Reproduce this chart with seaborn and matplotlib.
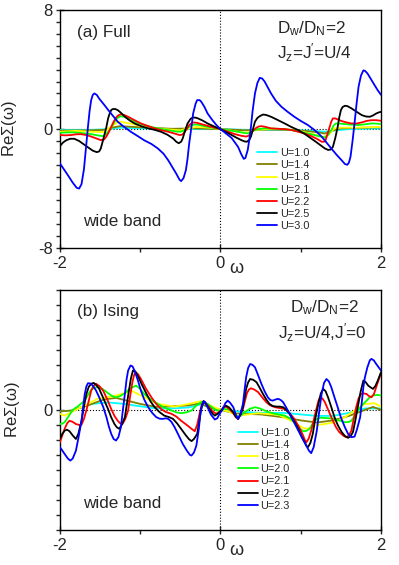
import numpy as np
import pandas as pd
import matplotlib
matplotlib.use('Agg')
import matplotlib.pyplot as plt
import seaborn as sns
from matplotlib.lines import Line2D
from matplotlib.ticker import MultipleLocator

# ---- panel (a): Full, Jz=J'=U/4  (omega, Re Sigma) ----
a_u10 = [(-2.0, -0.05), (-1.6, -0.05), (-1.4, 0.0), (-1.25, 0.1), (-1.0, 0.05), (-0.5, 0.0), (0.0, 0.0),
         (0.3, -0.05), (0.8, -0.05), (1.1, -0.1), (1.3, -0.18), (1.4, -0.1), (1.6, 0.0), (2.0, 0.05)]
a_u14 = [(-2.0, -0.1), (-1.6, -0.08), (-1.45, -0.05), (-1.35, 0.1), (-1.25, 0.2), (-1.0, 0.12), (-0.6, 0.02),
         (-0.35, 0.05), (0.0, 0.0), (0.3, -0.08), (0.6, -0.03), (0.9, -0.05), (1.2, -0.2), (1.3, -0.3),
         (1.4, -0.1), (1.5, 0.05), (1.7, 0.08), (2.0, 0.12)]
a_u18 = [(-2.0, -0.18), (-1.8, -0.12), (-1.6, -0.18), (-1.45, -0.2), (-1.38, 0.1), (-1.3, 0.4), (-1.25, 0.5),
         (-1.1, 0.35), (-0.9, 0.1), (-0.7, 0.0), (-0.5, -0.08), (-0.4, 0.05), (-0.3, 0.15), (-0.15, 0.1),
         (0.0, 0.0), (0.15, -0.12), (0.3, -0.25), (0.45, -0.05), (0.6, 0.0), (0.8, 0.0), (1.0, -0.15),
         (1.2, -0.4), (1.28, -0.55), (1.36, -0.3), (1.42, 0.05), (1.5, 0.1), (1.7, 0.1), (2.0, 0.15)]
a_u21 = [(-2.0, -0.25), (-1.91, -0.22), (-1.82, -0.22), (-1.72, -0.27), (-1.61, -0.34), (-1.53, -0.42),
         (-1.47, -0.47), (-1.43, -0.38), (-1.38, -0.07), (-1.34, 0.3), (-1.3, 0.65), (-1.27, 0.8),
         (-1.24, 0.87), (-1.19, 0.82), (-1.11, 0.6), (-1.03, 0.42), (-0.95, 0.27), (-0.86, 0.14),
         (-0.78, 0.05), (-0.7, -0.03), (-0.61, -0.11), (-0.55, -0.16), (-0.5, -0.18), (-0.45, -0.08),
         (-0.39, 0.16), (-0.35, 0.27), (-0.32, 0.31), (-0.27, 0.29), (-0.2, 0.2), (-0.1, 0.09), (0.0, 0.0),
         (0.1, -0.08), (0.22, -0.18), (0.29, -0.25), (0.34, -0.29), (0.38, -0.22), (0.42, -0.08),
         (0.47, 0.0), (0.55, 0.05), (0.67, 0.03), (0.8, 0.0), (0.92, -0.1), (1.05, -0.25), (1.14, -0.36),
         (1.22, -0.47), (1.27, -0.54), (1.3, -0.56), (1.34, -0.4), (1.38, -0.07), (1.41, 0.25), (1.44, 0.38),
         (1.49, 0.37), (1.55, 0.34), (1.63, 0.3), (1.71, 0.27), (1.8, 0.32), (1.88, 0.38), (1.94, 0.37),
         (2.0, 0.34)]
a_u22 = [(-2.0, -0.4), (-1.93, -0.42), (-1.86, -0.4), (-1.8, -0.35), (-1.74, -0.34), (-1.67, -0.4),
         (-1.61, -0.5), (-1.55, -0.62), (-1.49, -0.74), (-1.45, -0.7), (-1.42, -0.5), (-1.39, -0.2),
         (-1.36, 0.15), (-1.33, 0.5), (-1.3, 0.78), (-1.27, 0.93), (-1.24, 1.0), (-1.2, 0.95), (-1.15, 0.83),
         (-1.07, 0.6), (-0.99, 0.38), (-0.9, 0.2), (-0.82, 0.05), (-0.74, -0.07), (-0.65, -0.18),
         (-0.57, -0.3), (-0.51, -0.4), (-0.48, -0.38), (-0.46, -0.29), (-0.42, 0.0), (-0.39, 0.27),
         (-0.36, 0.4), (-0.33, 0.45), (-0.29, 0.42), (-0.24, 0.34), (-0.18, 0.25), (-0.12, 0.16),
         (-0.06, 0.08), (0.0, 0.0), (0.09, -0.17), (0.18, -0.34), (0.26, -0.45), (0.32, -0.5), (0.35, -0.45),
         (0.38, -0.29), (0.41, -0.08), (0.45, 0.1), (0.48, 0.18), (0.51, 0.2), (0.56, 0.15), (0.63, 0.05),
         (0.72, 0.02), (0.8, 0.0), (0.89, -0.07), (0.97, -0.18), (1.05, -0.3), (1.13, -0.47), (1.2, -0.65),
         (1.26, -0.85), (1.29, -0.85), (1.31, -0.74), (1.335, -0.3), (1.36, 0.15), (1.38, 0.5), (1.4, 0.72),
         (1.43, 0.72), (1.46, 0.65), (1.51, 0.54), (1.57, 0.45), (1.63, 0.38), (1.7, 0.38), (1.76, 0.45),
         (1.82, 0.55), (1.88, 0.6), (1.94, 0.6), (2.0, 0.56)]
a_u25 = [(-2.0, -1.15), (-1.96, -0.9), (-1.92, -0.75), (-1.87, -0.65), (-1.82, -0.65), (-1.76, -0.8),
         (-1.69, -1.07), (-1.63, -1.3), (-1.59, -1.45), (-1.54, -1.55), (-1.51, -1.5), (-1.49, -1.3),
         (-1.46, -0.7), (-1.42, 0.15), (-1.4, 0.7), (-1.38, 1.05), (-1.36, 1.28), (-1.34, 1.35), (-1.31, 1.35),
         (-1.28, 1.28), (-1.24, 1.1), (-1.19, 0.83), (-1.13, 0.58), (-1.07, 0.38), (-0.98, 0.18), (-0.9, 0.05),
         (-0.82, -0.05), (-0.74, -0.18), (-0.66, -0.38), (-0.59, -0.63), (-0.55, -0.85), (-0.52, -0.95),
         (-0.49, -0.85), (-0.47, -0.63), (-0.44, -0.1), (-0.41, 0.38), (-0.37, 0.7), (-0.34, 0.78),
         (-0.31, 0.77), (-0.28, 0.72), (-0.22, 0.57), (-0.16, 0.38), (-0.08, 0.18), (0.0, 0.0), (0.07, -0.2),
         (0.14, -0.4), (0.2, -0.58), (0.26, -0.74), (0.3, -0.83), (0.33, -0.85), (0.36, -0.72), (0.38, -0.5),
         (0.405, 0.0), (0.43, 0.5), (0.46, 0.75), (0.49, 0.87), (0.53, 0.98), (0.57, 0.95), (0.63, 0.83),
         (0.71, 0.62), (0.8, 0.38), (0.88, 0.15), (0.97, -0.07), (1.05, -0.33), (1.13, -0.63), (1.2, -0.9),
         (1.26, -1.14), (1.3, -1.3), (1.34, -1.4), (1.37, -1.38), (1.4, -1.2), (1.43, -0.6), (1.46, 0.15),
         (1.48, 0.8), (1.5, 1.27), (1.52, 1.48), (1.55, 1.57), (1.58, 1.55), (1.63, 1.4), (1.7, 1.15),
         (1.76, 0.94), (1.81, 0.85), (1.86, 0.83), (1.9, 0.92), (1.94, 1.05), (1.97, 1.12), (2.0, 1.16)]
a_u30 = [(-2.0, -2.3), (-1.95, -2.7), (-1.9, -3.1), (-1.84, -3.6), (-1.79, -3.95), (-1.76, -4.0),
         (-1.73, -3.7), (-1.7, -2.7), (-1.67, -1.0), (-1.65, 0.15), (-1.63, 1.2), (-1.61, 1.95), (-1.59, 2.3),
         (-1.57, 2.4), (-1.54, 2.3), (-1.51, 2.05), (-1.45, 1.65), (-1.4, 1.3), (-1.34, 0.9), (-1.28, 0.5),
         (-1.2, 0.15), (-1.11, -0.2), (-1.03, -0.47), (-0.95, -0.75), (-0.86, -1.0), (-0.78, -1.3),
         (-0.71, -1.65), (-0.65, -2.1), (-0.6, -2.55), (-0.55, -3.0), (-0.51, -3.4), (-0.49, -3.5),
         (-0.46, -3.3), (-0.43, -2.75), (-0.41, -2.0), (-0.39, -1.0), (-0.36, 0.2), (-0.34, 1.05),
         (-0.31, 1.7), (-0.29, 1.95), (-0.26, 1.95), (-0.24, 1.85), (-0.2, 1.5), (-0.16, 1.05), (-0.1, 0.6),
         (-0.05, 0.27), (0.0, 0.0), (0.07, -0.3), (0.14, -0.6), (0.22, -1.2), (0.26, -1.7), (0.29, -2.0),
         (0.31, -1.95), (0.34, -1.4), (0.36, -0.7), (0.38, 0.15), (0.4, 1.2), (0.43, 2.4), (0.46, 3.1),
         (0.49, 3.45), (0.52, 3.4), (0.55, 3.2), (0.59, 2.8), (0.63, 2.4), (0.69, 1.9), (0.76, 1.5),
         (0.84, 1.15), (0.92, 0.83), (1.0, 0.55), (1.09, 0.27), (1.18, -0.1), (1.26, -0.5), (1.32, -0.9),
         (1.38, -1.3), (1.45, -1.75), (1.51, -2.1), (1.55, -2.35), (1.58, -2.4), (1.6, -2.25), (1.62, -1.85),
         (1.645, -0.8), (1.67, 0.4), (1.695, 1.7), (1.72, 2.85), (1.75, 3.6), (1.78, 3.95), (1.8, 3.92),
         (1.83, 3.75), (1.87, 3.4), (1.92, 2.95), (1.96, 2.6), (2.0, 2.3)]

# ---- panel (b): Ising, Jz=U/4, J'=0 ----
b_u10 = [(-2.0, -0.05), (-1.85, -0.02), (-1.6, 0.2), (-1.4, 0.25), (-1.2, 0.2), (-1.0, 0.12), (-0.8, 0.05),
         (-0.6, 0.05), (-0.4, 0.08), (-0.25, 0.18), (0.0, 0.0), (0.2, -0.05), (0.5, -0.1), (0.8, -0.1),
         (1.0, -0.15), (1.2, -0.2), (1.4, -0.2), (1.6, -0.1), (1.8, 0.05), (2.0, 0.05)]
b_u14 = [(-2.0, -0.05), (-1.85, -0.02), (-1.65, 0.15), (-1.45, 0.35), (-1.3, 0.4), (-1.15, 0.3),
         (-1.0, 0.2), (-0.8, 0.1), (-0.6, 0.12), (-0.4, 0.15), (-0.25, 0.22), (-0.12, 0.05), (0.0, 0.0),
         (0.2, -0.12), (0.5, -0.15), (0.8, -0.25), (1.0, -0.35), (1.2, -0.42), (1.4, -0.35), (1.6, -0.2),
         (1.75, -0.05), (1.9, 0.1), (2.0, 0.0)]
b_u18 = [(-2.0, -0.13), (-1.94, -0.19), (-1.82, -0.02), (-1.65, 0.2), (-1.53, 0.37), (-1.36, 0.44),
         (-1.19, 0.56), (-1.11, 0.64), (-0.99, 0.48), (-0.78, 0.2), (-0.57, 0.11), (-0.36, 0.22),
         (-0.24, 0.29), (-0.12, 0.14), (0.0, 0.0), (0.09, -0.04), (0.22, -0.19), (0.47, -0.11),
         (0.72, -0.16), (0.88, -0.36), (1.03, -0.6), (1.09, -0.63), (1.17, -0.52), (1.3, -0.47),
         (1.42, -0.41), (1.55, -0.24), (1.67, -0.02), (1.8, 0.2), (1.92, 0.22), (2.0, 0.11)]
b_u20 = [(-2.0, -0.47), (-1.97, -0.46), (-1.94, -0.41), (-1.9, -0.25), (-1.86, -0.08), (-1.82, 0.04),
         (-1.78, 0.11), (-1.74, 0.2), (-1.69, 0.31), (-1.65, 0.5), (-1.61, 0.67), (-1.57, 0.74), (-1.53, 0.76),
         (-1.47, 0.7), (-1.4, 0.56), (-1.35, 0.46), (-1.3, 0.42), (-1.25, 0.46), (-1.19, 0.56), (-1.14, 0.68),
         (-1.09, 0.76), (-1.05, 0.81), (-1.0, 0.7), (-0.95, 0.53), (-0.87, 0.35), (-0.78, 0.2), (-0.7, 0.08),
         (-0.61, -0.02), (-0.55, -0.08), (-0.49, -0.11), (-0.42, -0.08), (-0.36, -0.02), (-0.3, 0.15),
         (-0.24, 0.26), (-0.2, 0.25), (-0.16, 0.2), (-0.1, 0.08), (-0.05, -0.02), (0.0, -0.02), (0.05, 0.03),
         (0.1, 0.02), (0.14, -0.02), (0.18, -0.15), (0.22, -0.24), (0.26, -0.18), (0.3, -0.08), (0.36, 0.03),
         (0.43, 0.09), (0.49, 0.05), (0.55, -0.02), (0.62, -0.09), (0.68, -0.13), (0.74, -0.16), (0.8, -0.19),
         (0.86, -0.27), (0.92, -0.41), (0.98, -0.6), (1.03, -0.71), (1.07, -0.7), (1.11, -0.63), (1.15, -0.45),
         (1.2, -0.3), (1.25, -0.26), (1.3, -0.27), (1.36, -0.28), (1.42, -0.3), (1.49, -0.36), (1.55, -0.41),
         (1.6, -0.4), (1.63, -0.36), (1.67, -0.2), (1.71, -0.02), (1.76, 0.15), (1.82, 0.31), (1.86, 0.42),
         (1.9, 0.48), (1.95, 0.5), (2.0, 0.48)]
b_u21 = [(-2.0, -1.08), (-1.97, -0.85), (-1.94, -0.63), (-1.91, -0.45), (-1.88, -0.36), (-1.84, -0.4),
         (-1.8, -0.47), (-1.76, -0.5), (-1.73, -0.49), (-1.7, -0.3), (-1.67, -0.02), (-1.64, 0.3), (-1.61, 0.64),
         (-1.58, 0.8), (-1.55, 0.87), (-1.51, 0.8), (-1.46, 0.64), (-1.41, 0.35), (-1.36, 0.03), (-1.32, -0.2),
         (-1.28, -0.36), (-1.25, -0.44), (-1.22, -0.47), (-1.185, -0.3), (-1.15, -0.02), (-1.125, 0.45),
         (-1.1, 0.87), (-1.08, 1.12), (-1.06, 1.26), (-1.03, 1.2), (-0.99, 1.03), (-0.93, 0.72), (-0.86, 0.42),
         (-0.8, 0.2), (-0.74, 0.03), (-0.68, -0.07), (-0.61, -0.13), (-0.55, -0.22), (-0.49, -0.36),
         (-0.42, -0.5), (-0.36, -0.63), (-0.32, -0.71), (-0.29, -0.5), (-0.26, -0.13), (-0.235, 0.15),
         (-0.21, 0.29), (-0.18, 0.22), (-0.14, 0.09), (-0.1, -0.05), (-0.05, -0.13), (0.01, -0.02),
         (0.04, 0.08), (0.07, 0.11), (0.11, 0.03), (0.16, -0.11), (0.19, -0.24), (0.22, -0.3), (0.25, -0.15),
         (0.28, 0.03), (0.305, 0.3), (0.33, 0.56), (0.355, 0.68), (0.38, 0.72), (0.42, 0.68), (0.47, 0.59),
         (0.52, 0.42), (0.57, 0.26), (0.62, 0.15), (0.68, 0.09), (0.74, 0.06), (0.8, 0.03), (0.86, -0.1),
         (0.92, -0.3), (0.98, -0.58), (1.03, -0.86), (1.05, -1.0), (1.07, -1.08), (1.1, -0.95), (1.13, -0.69),
         (1.165, -0.3), (1.2, 0.09), (1.22, 0.3), (1.24, 0.42), (1.27, 0.38), (1.3, 0.26), (1.35, -0.05),
         (1.4, -0.36), (1.44, -0.58), (1.48, -0.74), (1.53, -0.86), (1.57, -0.91), (1.6, -0.85), (1.63, -0.69),
         (1.66, -0.3), (1.69, 0.09), (1.72, 0.38), (1.75, 0.53), (1.785, 0.55), (1.82, 0.53), (1.85, 0.46),
         (1.88, 0.42), (1.91, 0.52), (1.94, 0.76), (1.97, 1.0), (2.0, 1.22)]
b_u22 = [(-2.0, -0.97), (-1.97, -0.8), (-1.94, -0.69), (-1.91, -0.66), (-1.88, -0.71), (-1.84, -0.85),
         (-1.8, -0.97), (-1.77, -0.8), (-1.73, -0.36), (-1.7, 0.1), (-1.67, 0.53), (-1.64, 0.77), (-1.61, 0.87),
         (-1.58, 0.9), (-1.55, 0.84), (-1.51, 0.7), (-1.46, 0.4), (-1.4, 0.03), (-1.36, -0.25), (-1.32, -0.47),
         (-1.29, -0.58), (-1.26, -0.63), (-1.23, -0.5), (-1.19, -0.24), (-1.165, 0.2), (-1.14, 0.64),
         (-1.115, 1.05), (-1.09, 1.31), (-1.06, 1.28), (-1.03, 1.14), (-0.98, 0.85), (-0.92, 0.53),
         (-0.87, 0.28), (-0.82, 0.09), (-0.76, -0.07), (-0.7, -0.19), (-0.64, -0.24), (-0.59, -0.3),
         (-0.54, -0.45), (-0.49, -0.63), (-0.43, -0.85), (-0.39, -0.98), (-0.36, -1.04), (-0.33, -0.97),
         (-0.29, -0.8), (-0.265, -0.4), (-0.24, 0.03), (-0.21, 0.29), (-0.18, 0.2), (-0.14, 0.03),
         (-0.1, -0.12), (-0.07, -0.19), (-0.03, -0.12), (0.01, -0.02), (0.04, 0.1), (0.07, 0.14), (0.11, 0.08),
         (0.16, -0.08), (0.19, -0.22), (0.22, -0.3), (0.25, -0.15), (0.28, 0.09), (0.3, 0.4), (0.32, 0.7),
         (0.345, 0.92), (0.37, 1.03), (0.41, 1.0), (0.45, 0.92), (0.49, 0.73), (0.53, 0.53), (0.57, 0.35),
         (0.61, 0.2), (0.65, 0.13), (0.7, 0.11), (0.74, 0.11), (0.78, 0.09), (0.82, 0.0), (0.86, -0.13),
         (0.92, -0.38), (0.97, -0.63), (1.01, -0.88), (1.05, -1.08), (1.07, -1.2), (1.09, -1.24), (1.12, -1.1),
         (1.15, -0.8), (1.18, -0.3), (1.22, 0.2), (1.25, 0.55), (1.28, 0.7), (1.31, 0.62), (1.34, 0.42),
         (1.38, 0.1), (1.42, -0.24), (1.46, -0.5), (1.51, -0.74), (1.55, -0.87), (1.59, -0.93), (1.62, -0.88),
         (1.65, -0.74), (1.68, -0.35), (1.71, 0.09), (1.745, 0.6), (1.78, 0.98), (1.81, 0.92), (1.84, 0.81),
         (1.87, 0.75), (1.9, 0.7), (1.93, 0.8), (1.96, 0.98), (1.98, 1.12), (2.0, 1.26)]
b_u23 = [(-2.0, -1.24), (-1.97, -1.35), (-1.94, -1.47), (-1.9, -1.62), (-1.87, -1.69), (-1.84, -1.62),
         (-1.8, -1.36), (-1.77, -0.95), (-1.73, -0.36), (-1.71, 0.1), (-1.69, 0.53), (-1.67, 0.78),
         (-1.65, 0.89), (-1.62, 0.88), (-1.59, 0.81), (-1.55, 0.65), (-1.51, 0.42), (-1.46, 0.1),
         (-1.42, -0.24), (-1.39, -0.55), (-1.36, -0.8), (-1.33, -0.97), (-1.3, -1.02), (-1.27, -0.9),
         (-1.24, -0.58), (-1.215, 0.0), (-1.19, 0.53), (-1.17, 1.0), (-1.15, 1.31), (-1.12, 1.48),
         (-1.095, 1.45), (-1.07, 1.31), (-1.03, 1.0), (-0.99, 0.64), (-0.95, 0.35), (-0.9, 0.09),
         (-0.85, -0.1), (-0.8, -0.24), (-0.76, -0.29), (-0.72, -0.3), (-0.68, -0.28), (-0.65, -0.3),
         (-0.61, -0.4), (-0.57, -0.58), (-0.52, -0.85), (-0.47, -1.13), (-0.42, -1.35), (-0.38, -1.5),
         (-0.36, -1.52), (-0.33, -1.42), (-0.3, -1.19), (-0.27, -0.65), (-0.25, -0.13), (-0.23, 0.15),
         (-0.21, 0.29), (-0.19, 0.26), (-0.16, 0.09), (-0.12, -0.15), (-0.07, -0.32), (-0.04, -0.28),
         (-0.01, -0.13), (0.03, 0.03), (0.06, 0.22), (0.09, 0.31), (0.12, 0.24), (0.16, 0.09), (0.19, -0.15),
         (0.22, -0.3), (0.25, -0.12), (0.28, 0.2), (0.3, 0.65), (0.32, 1.09), (0.345, 1.4), (0.37, 1.53),
         (0.4, 1.5), (0.43, 1.42), (0.47, 1.15), (0.51, 0.87), (0.55, 0.62), (0.59, 0.42), (0.62, 0.33),
         (0.65, 0.31), (0.69, 0.35), (0.72, 0.37), (0.75, 0.33), (0.78, 0.26), (0.81, 0.12), (0.84, -0.02),
         (0.9, -0.33), (0.97, -0.69), (1.02, -0.95), (1.07, -1.19), (1.1, -1.35), (1.13, -1.44), (1.16, -1.25),
         (1.2, -0.69), (1.23, -0.05), (1.26, 0.53), (1.29, 0.9), (1.32, 1.03), (1.35, 0.95), (1.38, 0.76),
         (1.42, 0.42), (1.46, 0.09), (1.5, -0.25), (1.55, -0.58), (1.59, -0.8), (1.63, -0.91), (1.67, -0.89),
         (1.7, -0.65), (1.72, -0.45), (1.74, -0.24), (1.76, 0.25), (1.78, 0.76), (1.8, 1.1), (1.83, 1.42),
         (1.86, 1.65), (1.88, 1.7), (1.91, 1.65), (1.94, 1.53), (1.97, 1.42), (2.0, 1.31)]

colors = ['#00ffff', '#808000', '#ffff00', '#00ff00', '#ff0000', '#000000', '#0000ff']
a_labels = ['U=1.0', 'U=1.4', 'U=1.8', 'U=2.1', 'U=2.2', 'U=2.5', 'U=3.0']
b_labels = ['U=1.0', 'U=1.4', 'U=1.8', 'U=2.0', 'U=2.1', 'U=2.2', 'U=2.3']
a_curves = [a_u10, a_u14, a_u18, a_u21, a_u22, a_u25, a_u30]
b_curves = [b_u10, b_u14, b_u18, b_u20, b_u21, b_u22, b_u23]


def to_frame(curves, labels):
    rows = []
    for lab, pts in zip(labels, curves):
        for w, v in pts:
            rows.append({'w': w, 'v': v, 'U': lab})
    return pd.DataFrame(rows)


sns.set_style('ticks')
plt.rcParams['font.family'] = ['Liberation Sans', 'DejaVu Sans']
plt.rcParams['mathtext.fontset'] = 'custom'
plt.rcParams['mathtext.rm'] = 'Liberation Sans'
plt.rcParams['mathtext.it'] = 'Liberation Sans'
plt.rcParams['axes.unicode_minus'] = False

fig = plt.figure(figsize=(3.99, 5.65), dpi=100)
ax1 = fig.add_axes([0.150, 0.561, 0.805, 0.421])
ax2 = fig.add_axes([0.150, 0.062, 0.805, 0.425])

panels = [
    (ax1, a_curves, a_labels, 8, 0.8, '(a) Full', r'J$_\mathregular{z}$=J$^\mathregular{\prime}$=U/4',
     (0.676, 0.924), (0.676, 0.822), (0.644, 0.738), -0.128),
    (ax2, b_curves, b_labels, 4, 0.5, '(b) Ising', r'J$_\mathregular{z}$=U/4,J$^\mathregular{\prime}$=0',
     (0.717, 0.925), (0.680, 0.822), (0.596, 0.243), -0.118),
]

for ax, curves, labels, ylim, ystep, title, jtext, dpos, jpos, legpos, ylx in panels:
    df = to_frame(curves, labels)
    ax.axhline(0, color='k', lw=0.8, ls=':', zorder=1)
    ax.axvline(0, color='k', lw=0.8, ls=':', zorder=1)
    sns.lineplot(data=df, x='w', y='v', hue='U', palette=dict(zip(labels, colors)),
                 estimator=None, sort=False, legend=False, lw=1.3, ax=ax, zorder=3)
    ax.set_xlim(-2, 2)
    ax.set_ylim(-ylim, ylim)
    ax.set_xticks([-2, 0, 2])
    ax.xaxis.set_minor_locator(MultipleLocator(1))
    if ylim == 8:
        ax.set_yticks([-8, 0, 8])
    else:
        ax.set_yticks([0])
    ax.yaxis.set_minor_locator(MultipleLocator(ystep))
    ax.tick_params(which='major', direction='inout', length=6, width=1, labelsize=12, pad=2)
    ax.tick_params(which='minor', direction='out', length=3, width=1)
    ax.tick_params(axis='x', which='major', pad=3)
    for s in ax.spines.values():
        s.set_linewidth(1)
        s.set_color('k')
    ax.set_xlabel('')
    ax.set_ylabel(r'Re$\Sigma(\omega)$', fontsize=12)
    ax.yaxis.set_label_coords(ylx, 0.5)
    ax.text(0.2, -0.085, r'$\omega$', transform=ax.get_xaxis_transform(), fontsize=13,
            ha='center', va='center')
    ax.text(0.053, 0.908, title, transform=ax.transAxes, fontsize=12.3, va='center')
    ax.text(dpos[0], dpos[1], r'D$_\mathregular{w}$/D$_\mathregular{N}$=2', transform=ax.transAxes,
            fontsize=12.3, va='center')
    ax.text(jpos[0], jpos[1], jtext, transform=ax.transAxes, fontsize=12.3, va='center')
    ax.text(0.072, 0.11, 'wide band', transform=ax.transAxes, fontsize=12.3, va='center')
    handles = [Line2D([], [], color=c, lw=1.3) for c in colors]
    ax.legend(handles, labels, loc='upper left', bbox_to_anchor=legpos, bbox_transform=fig.transFigure,
              frameon=False, fontsize=7.8, handlelength=1.85, handletextpad=0.25, labelspacing=0.2,
              borderpad=0, borderaxespad=0)

fig.savefig('out.png', dpi=100)
